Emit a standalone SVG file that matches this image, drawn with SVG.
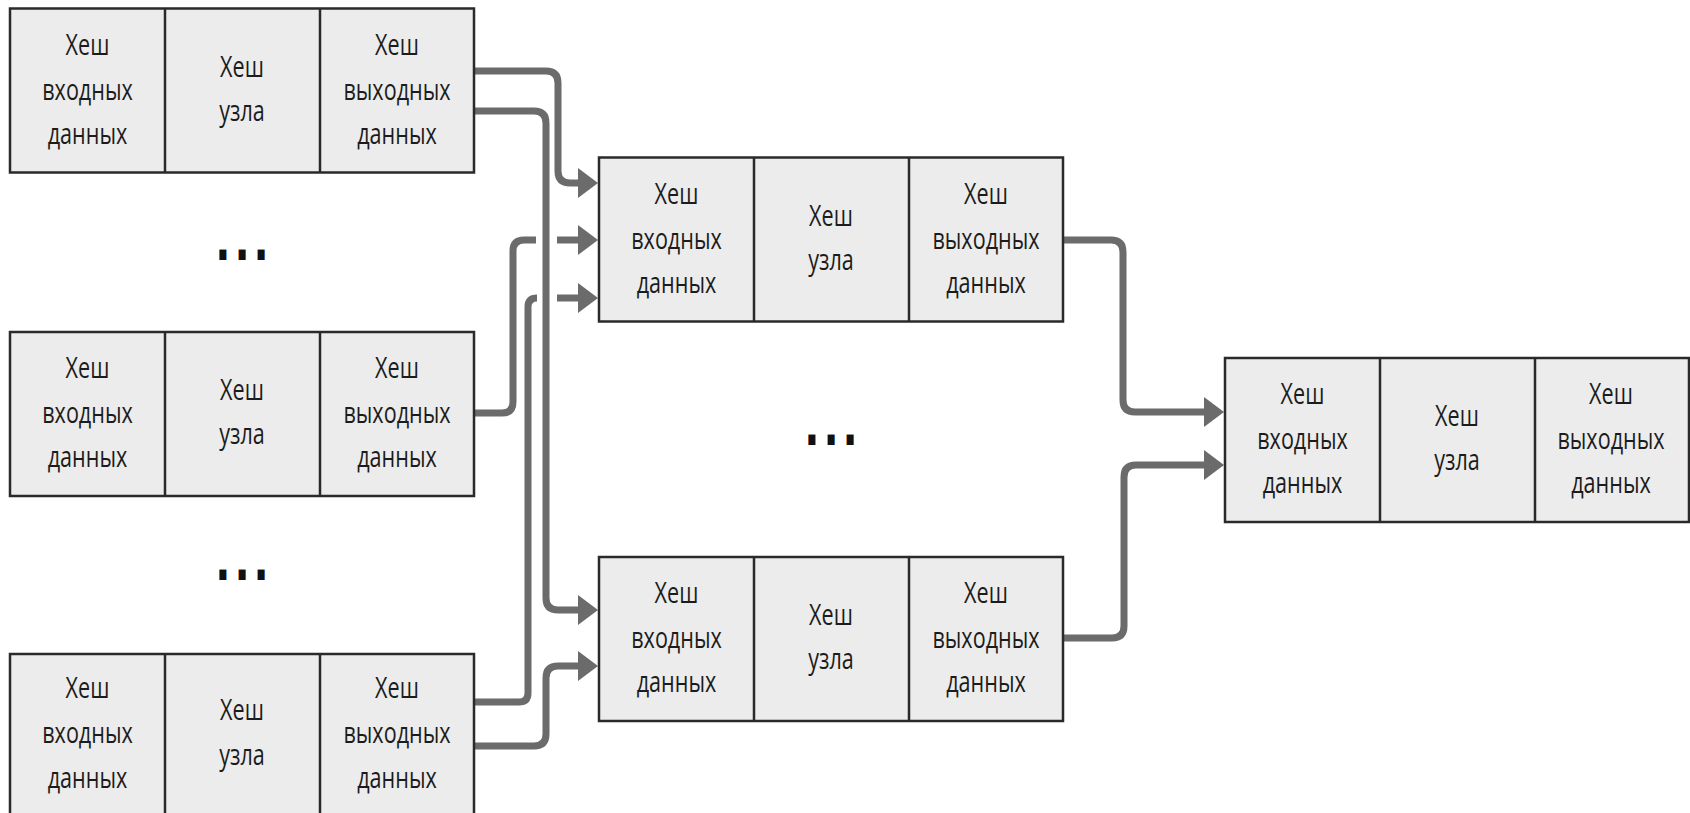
<svg xmlns="http://www.w3.org/2000/svg" width="1690" height="813" viewBox="0 0 1690 813">
<style>
.box{fill:#ececec;stroke:#2a2a2a;stroke-width:2.5}
.div{stroke:#2a2a2a;stroke-width:2.5}
.t{font-family:"Open Sans","Noto Sans","DejaVu Sans",sans-serif;font-size:30px;fill:#1c1c1c;text-anchor:middle}
.c{fill:none;stroke:#6b6b6b;stroke-width:7}
.dots{font-family:"DejaVu Sans",sans-serif;font-weight:bold;font-size:40px;fill:#111;text-anchor:middle;letter-spacing:4px}
</style>
<defs>
<marker id="ah" markerUnits="userSpaceOnUse" markerWidth="20" markerHeight="30" refX="0" refY="15" orient="auto">
<path d="M0,0 L20,15 L0,30 Z" fill="#6b6b6b"/>
</marker>
<g id="cells">
<rect class="box" x="0" y="0" width="464" height="164"/>
<line class="div" x1="155" y1="0" x2="155" y2="164"/>
<line class="div" x1="310" y1="0" x2="310" y2="164"/>
</g>
</defs>

<g id="connectors">
<path class="c" d="M474,71 H546 Q558,71 558,83 V171 Q558,183 570,183 H578" marker-end="url(#ah)"/>
<path class="c" d="M474,111 H534 Q546,111 546,123 V598 Q546,610 558,610 H578" marker-end="url(#ah)"/>
<path class="c" d="M474,413 H502 Q513,413 513,402 V251 Q513,240 524,240 H536"/>
<path class="c" d="M557,240 H578" marker-end="url(#ah)"/>
<path class="c" d="M474,702 H519 Q528,702 528,693 V307 Q528,298 537,298"/>
<path class="c" d="M557,298 H578" marker-end="url(#ah)"/>
<path class="c" d="M474,746 H534 Q546,746 546,734 V678 Q546,666 558,666 H578" marker-end="url(#ah)"/>
<path class="c" d="M1063,240 H1111 Q1123,240 1123,252 V400 Q1123,412 1135,412 H1204" marker-end="url(#ah)"/>
<path class="c" d="M1063,638 H1112 Q1124,638 1124,626 V477 Q1124,465 1136,465 H1204" marker-end="url(#ah)"/>
</g>

<g id="node-a" transform="translate(10,8.5)">
<use href="#cells"/>
<text class="t" transform="translate(77.5,46) scale(0.72,1)">Хеш</text>
<text class="t" transform="translate(77.5,91) scale(0.72,1)">входных</text>
<text class="t" transform="translate(77.5,135) scale(0.72,1)">данных</text>
<text class="t" transform="translate(232,68) scale(0.72,1)">Хеш</text>
<text class="t" transform="translate(232,112) scale(0.72,1)">узла</text>
<text class="t" transform="translate(387,46) scale(0.72,1)">Хеш</text>
<text class="t" transform="translate(387,91) scale(0.72,1)">выходных</text>
<text class="t" transform="translate(387,135) scale(0.72,1)">данных</text>
</g>

<g id="node-b" transform="translate(10,332)">
<use href="#cells"/>
<text class="t" transform="translate(77.5,46) scale(0.72,1)">Хеш</text>
<text class="t" transform="translate(77.5,91) scale(0.72,1)">входных</text>
<text class="t" transform="translate(77.5,135) scale(0.72,1)">данных</text>
<text class="t" transform="translate(232,68) scale(0.72,1)">Хеш</text>
<text class="t" transform="translate(232,112) scale(0.72,1)">узла</text>
<text class="t" transform="translate(387,46) scale(0.72,1)">Хеш</text>
<text class="t" transform="translate(387,91) scale(0.72,1)">выходных</text>
<text class="t" transform="translate(387,135) scale(0.72,1)">данных</text>
</g>

<g id="node-c" transform="translate(10,654)">
<use href="#cells"/>
<text class="t" transform="translate(77.5,44) scale(0.72,1)">Хеш</text>
<text class="t" transform="translate(77.5,89) scale(0.72,1)">входных</text>
<text class="t" transform="translate(77.5,134) scale(0.72,1)">данных</text>
<text class="t" transform="translate(232,66) scale(0.72,1)">Хеш</text>
<text class="t" transform="translate(232,111) scale(0.72,1)">узла</text>
<text class="t" transform="translate(387,44) scale(0.72,1)">Хеш</text>
<text class="t" transform="translate(387,89) scale(0.72,1)">выходных</text>
<text class="t" transform="translate(387,134) scale(0.72,1)">данных</text>
</g>

<g id="node-d" transform="translate(599,157.5)">
<use href="#cells"/>
<text class="t" transform="translate(77.5,46) scale(0.72,1)">Хеш</text>
<text class="t" transform="translate(77.5,91) scale(0.72,1)">входных</text>
<text class="t" transform="translate(77.5,135) scale(0.72,1)">данных</text>
<text class="t" transform="translate(232,68) scale(0.72,1)">Хеш</text>
<text class="t" transform="translate(232,112) scale(0.72,1)">узла</text>
<text class="t" transform="translate(387,46) scale(0.72,1)">Хеш</text>
<text class="t" transform="translate(387,91) scale(0.72,1)">выходных</text>
<text class="t" transform="translate(387,135) scale(0.72,1)">данных</text>
</g>

<g id="node-e" transform="translate(599,557)">
<use href="#cells"/>
<text class="t" transform="translate(77.5,46) scale(0.72,1)">Хеш</text>
<text class="t" transform="translate(77.5,91) scale(0.72,1)">входных</text>
<text class="t" transform="translate(77.5,135) scale(0.72,1)">данных</text>
<text class="t" transform="translate(232,68) scale(0.72,1)">Хеш</text>
<text class="t" transform="translate(232,112) scale(0.72,1)">узла</text>
<text class="t" transform="translate(387,46) scale(0.72,1)">Хеш</text>
<text class="t" transform="translate(387,91) scale(0.72,1)">выходных</text>
<text class="t" transform="translate(387,135) scale(0.72,1)">данных</text>
</g>

<g id="node-f" transform="translate(1225,358)">
<use href="#cells"/>
<text class="t" transform="translate(77.5,46) scale(0.72,1)">Хеш</text>
<text class="t" transform="translate(77.5,91) scale(0.72,1)">входных</text>
<text class="t" transform="translate(77.5,135) scale(0.72,1)">данных</text>
<text class="t" transform="translate(232,68) scale(0.72,1)">Хеш</text>
<text class="t" transform="translate(232,112) scale(0.72,1)">узла</text>
<text class="t" transform="translate(386,46) scale(0.72,1)">Хеш</text>
<text class="t" transform="translate(386,91) scale(0.72,1)">выходных</text>
<text class="t" transform="translate(386,135) scale(0.72,1)">данных</text>
</g>

<g id="ellipses">
<text class="dots" transform="translate(244,260) scale(1,1.4)">...</text>
<text class="dots" transform="translate(244,580) scale(1,1.4)">...</text>
<text class="dots" transform="translate(833,445) scale(1,1.4)">...</text>
</g>
</svg>
